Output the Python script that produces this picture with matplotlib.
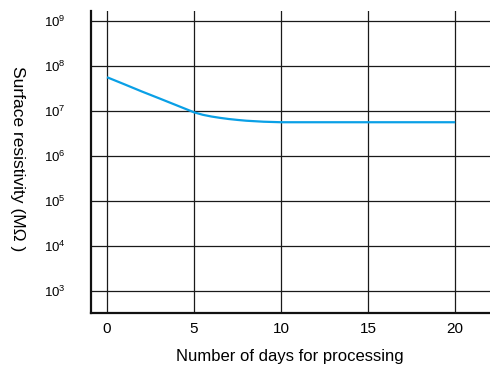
import matplotlib
matplotlib.use("Agg")
import matplotlib.pyplot as plt
from matplotlib.ticker import FixedLocator, NullLocator, FixedFormatter

plt.rcParams['font.family'] = ['Liberation Sans', 'DejaVu Sans']
plt.rcParams['mathtext.fontset'] = 'custom'
plt.rcParams['mathtext.rm'] = 'Liberation Sans'
plt.rcParams['mathtext.it'] = 'Liberation Sans'

# Surface resistivity vs. processing time
days = [0, 1, 2, 3, 4, 5, 5.5, 6, 6.5, 7, 7.5, 8, 9, 10, 15, 20]
resistivity = [5.6e7, 3.9e7, 2.7e7, 1.9e7, 1.33e7, 9.3e6, 8.2e6, 7.5e6,
               7.0e6, 6.6e6, 6.3e6, 6.05e6, 5.75e6, 5.6e6, 5.6e6, 5.6e6]

x_ticks = [0, 5, 10, 15, 20]
x_tick_labels = ['0', '5', '10', '15', '20']
y_ticks = [1e3, 1e4, 1e5, 1e6, 1e7, 1e8, 1e9]
y_tick_labels = [r'$10^{3}$', r'$10^{4}$', r'$10^{5}$', r'$10^{6}$',
                 r'$10^{7}$', r'$10^{8}$', r'$10^{9}$']

fig = plt.figure(figsize=(4.9, 3.65), dpi=100)
ax = fig.add_axes([0.1857, 0.1425, 0.8143, 0.8274])

ax.set_yscale('log')
ax.set_xlim(-0.92, 22.0)
ax.set_ylim(10 ** 2.51, 10 ** 9.22)

ax.plot(days, resistivity, color='#0aa0e6', lw=1.6, zorder=3,
        solid_capstyle='butt')

ax.xaxis.set_major_locator(FixedLocator(x_ticks))
ax.xaxis.set_major_formatter(FixedFormatter(x_tick_labels))
ax.yaxis.set_major_locator(FixedLocator(y_ticks))
ax.yaxis.set_major_formatter(FixedFormatter(y_tick_labels))
ax.yaxis.set_minor_locator(NullLocator())
ax.xaxis.set_minor_locator(NullLocator())

ax.grid(True, which='major', color='#1a1a1a', lw=0.9)
ax.tick_params(axis='both', length=0)
ax.tick_params(axis='x', labelsize=11, pad=6.5)
ax.tick_params(axis='y', labelsize=9.5, pad=18.5)

for side in ('top', 'right'):
    ax.spines[side].set_visible(False)
for side in ('left', 'bottom'):
    ax.spines[side].set_linewidth(1.6)
    ax.spines[side].set_color('#111111')

fig.text(0.592, 0.022, 'Number of days for processing', ha='center',
         va='center', fontsize=12)
fig.text(0.036, 0.565, 'Surface resistivity (MΩ )', rotation=270,
         ha='center', va='center', fontsize=12.5)

fig.savefig('out.png', dpi=100)
